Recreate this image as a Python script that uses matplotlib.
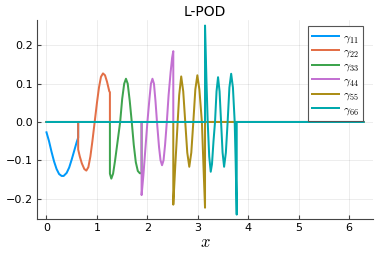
import matplotlib
matplotlib.use("Agg")
import matplotlib.pyplot as plt

plt.rcParams["mathtext.fontset"] = "cm"

# gamma_ii(x): non-zero only on its own sub-interval, zero elsewhere on [0, 2pi]
g11_x = [0.00, 0.05, 0.10, 0.15, 0.20, 0.25, 0.30, 0.34, 0.40, 0.45, 0.50, 0.55, 0.60, 0.628, 0.628, 6.283]
g11_y = [-0.027, -0.05, -0.078, -0.103, -0.123, -0.136, -0.141, -0.141, -0.133, -0.119, -0.098, -0.075, -0.052, -0.041, 0.0, 0.0]

g22_x = [0.0, 0.628, 0.628, 0.66, 0.70, 0.75, 0.79, 0.83, 0.87, 0.91, 0.955, 1.00, 1.04, 1.08, 1.12, 1.16, 1.20, 1.245, 1.257, 1.257, 6.283]
g22_y = [0.0, 0.0, -0.072, -0.09, -0.108, -0.123, -0.127, -0.118, -0.09, -0.05, 0.0, 0.05, 0.09, 0.118, 0.127, 0.122, 0.105, 0.080, 0.078, 0.0, 0.0]

g33_x = [0.0, 1.257, 1.257, 1.285, 1.32, 1.36, 1.41, 1.46, 1.50, 1.54, 1.575, 1.61, 1.65, 1.69, 1.73, 1.77, 1.81, 1.85, 1.885, 1.885, 6.283]
g33_y = [0.0, 0.0, -0.135, -0.148, -0.135, -0.10, -0.05, 0.0, 0.06, 0.10, 0.113, 0.10, 0.055, 0.0, -0.06, -0.105, -0.128, -0.134, -0.134, 0.0, 0.0]

g44_x = [0.0, 1.885, 1.885, 1.92, 1.96, 2.00, 2.04, 2.07, 2.10, 2.13, 2.16, 2.19, 2.23, 2.26, 2.29, 2.32, 2.35, 2.385, 2.42, 2.46, 2.49, 2.513, 2.513, 6.283]
g44_y = [0.0, 0.0, -0.191, -0.14, -0.07, 0.0, 0.06, 0.10, 0.113, 0.10, 0.055, 0.0, -0.065, -0.10, -0.113, -0.10, -0.06, 0.0, 0.07, 0.13, 0.168, 0.185, 0.0, 0.0]

g55_x = [0.0, 2.513, 2.513, 2.55, 2.60, 2.63, 2.67, 2.71, 2.75, 2.79, 2.83, 2.87, 2.91, 2.95, 2.99, 3.03, 3.08, 3.11, 3.142, 3.142, 6.283]
g55_y = [0.0, 0.0, -0.216, -0.12, 0.0, 0.07, 0.119, 0.08, 0.0, -0.08, -0.117, -0.08, 0.0, 0.085, 0.122, 0.085, 0.0, -0.11, -0.224, 0.0, 0.0]

g66_x = [0.0, 3.142, 3.142, 3.17, 3.195, 3.225, 3.255, 3.28, 3.31, 3.34, 3.37, 3.40, 3.43, 3.46, 3.49, 3.52, 3.555, 3.59, 3.625, 3.66, 3.695, 3.73, 3.75, 3.77, 3.77, 6.283]
g66_y = [0.0, 0.0, 0.252, 0.11, 0.0, -0.09, -0.13, -0.11, -0.05, 0.0, 0.08, 0.117, 0.08, 0.0, -0.08, -0.117, -0.08, 0.0, 0.09, 0.126, 0.09, 0.0, -0.11, -0.242, 0.0, 0.0]

series = [
    (g11_x, g11_y, r"$\gamma_{11}$", "#009AFA"),
    (g22_x, g22_y, r"$\gamma_{22}$", "#E36F47"),
    (g33_x, g33_y, r"$\gamma_{33}$", "#3EA44E"),
    (g44_x, g44_y, r"$\gamma_{44}$", "#C371D2"),
    (g55_x, g55_y, r"$\gamma_{55}$", "#AC8E18"),
    (g66_x, g66_y, r"$\gamma_{66}$", "#00A9AD"),
]

W, H = 381, 254
fig = plt.figure(figsize=(W / 100, H / 100), dpi=100)
# axes box in pixels: left 37, bottom 35, width 336, height 199
ax = fig.add_axes([37 / W, 35 / H, 336 / W, 199 / H])

for xs, ys, label, color in series:
    ax.plot(xs, ys, color=color, lw=1.44, label=label)

ax.set_xlim(-0.188, 6.471)
ax.set_ylim(-0.2535, 0.2665)
ax.set_xticks([0, 1, 2, 3, 4, 5, 6])
ax.set_yticks([-0.2, -0.1, 0.0, 0.1, 0.2])
ax.set_yticklabels(["\u22120.2", "\u22120.1", "0.0", "0.1", "0.2"])
ax.grid(True, color="#000000", alpha=0.1, lw=0.5)
for side in ["top", "right"]:
    ax.spines[side].set_visible(False)
for side in ["left", "bottom"]:
    ax.spines[side].set_color("#444444")
ax.tick_params(direction="in", length=3, labelsize=8, color="#444444", pad=3)

ax.set_xlabel(r"$x$", fontsize=12, labelpad=0)
ax.set_title("L-POD", fontsize=10, pad=3)

leg = ax.legend(loc="upper right", bbox_to_anchor=(0.97, 0.97), fontsize=8.5,
                handlelength=2.3, handletextpad=0.3, labelspacing=0.0,
                borderpad=0.35, borderaxespad=0, fancybox=False, framealpha=1)
leg.get_frame().set_edgecolor("#555555")
leg.get_frame().set_linewidth(0.8)

fig.savefig("out.png", dpi=100)
